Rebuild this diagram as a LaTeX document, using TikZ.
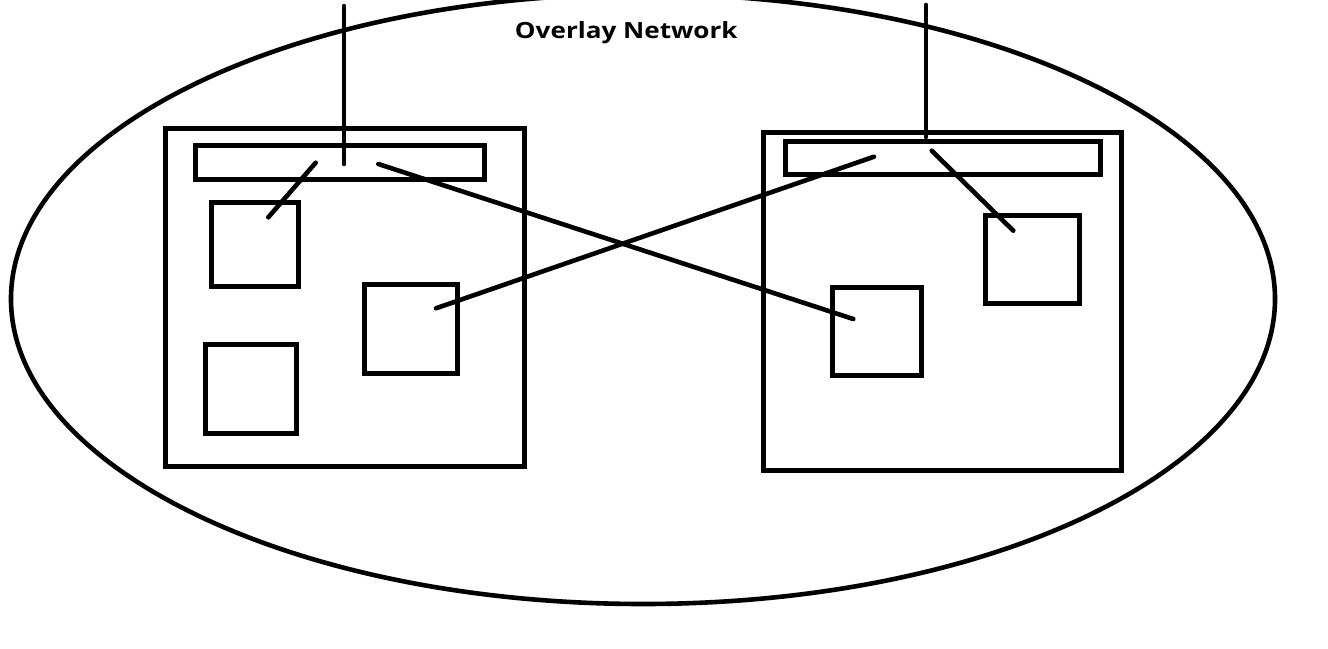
\documentclass[tikz,border=0pt]{standalone}
\usepackage{fontspec}
\setmainfont{Open Sans}
\newfontfamily\titlefont[FakeStretch=1.17]{Open Sans}
\usetikzlibrary{fit,shapes.geometric}
\begin{document}
\begin{tikzpicture}[x=1pt,y=-1pt,
  box/.style={draw=black,line width=5pt,inner sep=0pt,outer sep=0pt,fill=none},
  link/.style={draw=black,line width=4.6pt,line cap=round},
  cloud/.style={draw=black,line width=4.6pt}]
  \useasboundingbox[fill=white] (0,0) rectangle (1328,648);

  % overlay network boundary
  \node[cloud,ellipse,inner sep=0pt,minimum width=1264pt,minimum height=610pt] (net) at (643,299) {};
  \node[anchor=base,inner sep=0pt,font=\titlefont\fontsize{22.3}{26}\selectfont\bfseries] (title) at (626.3,38.2) {Overlay Network};

  % left host
  \node[box,fit={(165,128) (524.5,466.5)}] (hostL) {};
  \node[box,fit={(195.5,145) (484.5,179.5)}] (barL) {};
  \node[box,fit={(211.5,202.5) (298.5,286.5)}] (cA) {};
  \node[box,fit={(205.5,344.5) (296.5,433.5)}] (cB) {};
  \node[box,fit={(364.5,284.5) (457.5,373.5)}] (cC) {};

  % right host
  \node[box,fit={(763,132) (1121.5,470.5)}] (hostR) {};
  \node[box,fit={(785.5,141.5) (1100.5,174.5)}] (barR) {};
  \node[box,fit={(985.5,215.5) (1079.5,303.5)}] (cD) {};
  \node[box,fit={(832.5,287.5) (921.5,375)}] (cE) {};

  % connector end points
  \coordinate (upL) at (344,6);
  \coordinate (upR) at (926,5);
  \coordinate (barLup) at (344,164);
  \coordinate (barRup) at (926,137);
  \coordinate (barLa) at (315.7,162.7);
  \coordinate (barLb) at (378.3,164);
  \coordinate (barRa) at (874,156.7);
  \coordinate (barRb) at (931.7,150.7);
  \coordinate (cAin) at (268.3,217.3);
  \coordinate (cCin) at (436,308.3);
  \coordinate (cDin) at (1013.3,230.7);
  \coordinate (cEin) at (853.3,319);

  % links
  \draw[link] (upL) -- (barLup);
  \draw[link] (upR) -- (barRup);
  \draw[link] (barLa) -- (cAin);
  \draw[link] (barLb) -- (cEin);
  \draw[link] (cCin) -- (barRa);
  \draw[link] (barRb) -- (cDin);
\end{tikzpicture}
\end{document}
